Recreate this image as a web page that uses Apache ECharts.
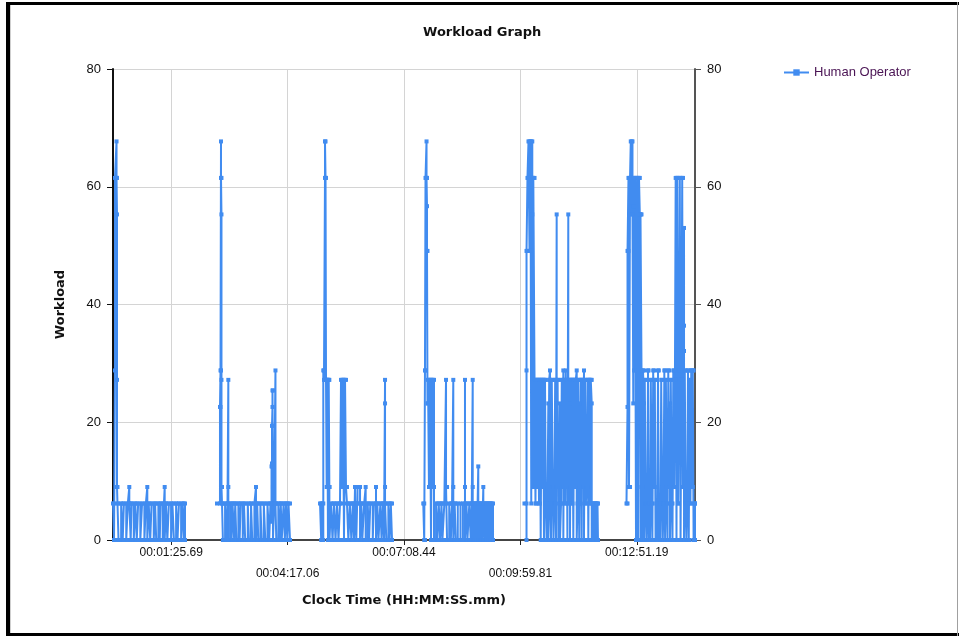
<!DOCTYPE html>
<html>
<head>
<meta charset="utf-8">
<title>Workload Graph</title>
<script src="https://cdn.jsdelivr.net/npm/echarts@6/dist/echarts.min.js"></script>
<style>
  html, body { margin: 0; padding: 0; background: #fff; }
  #chart { width: 959px; height: 636px; }
</style>
</head>
<body>
<div id="chart"></div>
<script>
// Clock time in seconds since start, workload value at that instant.
// Each run is a step trace: the value holds until the next sample.
const run1 = [
  [0, 6.2], [1.5, 0], [2.9, 28.8], [2.9, 61.5], [5.2, 67.7], [5.2, 61.5], [5.9, 55.3], [5.9, 27.2], [5.9, 9], [6.6, 6.2],
  [8.1, 0], [12.0, 6.2], [14.3, 0], [16.0, 6.2], [19.5, 0], [21.8, 6.2], [24.0, 9], [24.0, 6.2], [26.0, 0], [27.4, 6.2],
  [30.6, 0], [32.8, 6.2], [35.0, 0], [37.0, 6.2], [40.2, 0], [42.8, 6.2], [46.2, 0], [48.4, 6.2], [50.5, 9], [50.5, 0],
  [52.6, 6.2], [54.8, 0], [56.8, 6.2], [60.0, 0], [62.0, 6.2], [63.6, 0], [66.8, 6.2], [68.8, 0], [70.0, 6.2], [73.2, 0],
  [75.0, 6.2], [76.1, 9], [76.1, 0], [78.0, 6.2], [80.0, 0], [82.3, 6.2], [85.5, 0], [87.5, 6.2], [89.7, 0], [92.9, 6.2],
  [95.0, 0], [97.1, 6.2], [100.3, 0], [102.5, 6.2], [104.4, 0], [106.0, 6.2], [106.0, 0]
];
const run2 = [
  [153.1, 6.2], [157.5, 22.6], [158.3, 28.8], [159.0, 67.7], [159.0, 61.5], [159.7, 55.3], [159.7, 27.2], [159.7, 9], [160.5, 6.2],
  [161.8, 0], [165.0, 6.2], [166.8, 0], [168.6, 6.2], [169.8, 27.2], [169.8, 9], [169.8, 0], [172.8, 6.2], [174.6, 0], [176.0, 6.2],
  [178.4, 0], [180.0, 6.2], [181.6, 0], [184.6, 6.2], [186.4, 0], [188.0, 6.2], [191.0, 0], [192.8, 6.2], [194.6, 0], [198.4, 6.2],
  [200.2, 0], [203.2, 6.2], [205.0, 0], [208.2, 6.2], [210.5, 9], [210.5, 0], [212.3, 6.2], [213.9, 0], [217.0, 6.2], [218.8, 0],
  [222.0, 6.2], [224.2, 0], [227.4, 6.2], [230.0, 0], [231.8, 6.2], [233.4, 3.1], [233.4, 12.5], [234.1, 13.0], [234.1, 19.4],
  [234.8, 22.6], [234.8, 25.4], [235.5, 9], [235.5, 0], [237.2, 6.2], [239.2, 28.8], [239.2, 6.2], [240.4, 0], [243.4, 6.2],
  [245.2, 0], [247.0, 6.2], [248.4, 0], [251.2, 6.2], [253.0, 0], [254.8, 6.2], [256.6, 0], [258.4, 6.2], [260.6, 0]
];
const run3 = [
  [304.8, 6.2], [306.5, 0], [308.0, 6.2], [309.6, 0], [309.6, 28.8], [310.6, 27.2], [312.1, 61.5], [312.1, 67.7], [312.9, 61.5],
  [313.6, 27.2], [314.6, 9], [315.5, 27.2], [316.5, 0], [317.6, 27.2], [318.5, 9], [318.7, 0], [321.0, 6.2], [323.2, 0],
  [325.4, 6.2], [327.6, 0], [329.8, 6.2], [332.0, 0], [334.2, 6.2], [335.7, 27.2], [337.2, 9], [338.6, 27.2], [340.1, 0],
  [341.6, 27.2], [343.0, 9], [344.5, 6.2], [346.5, 0], [348.7, 6.2], [350.9, 0], [353.1, 6.2], [354.8, 0], [356.3, 9],
  [356.3, 6.2], [358.2, 0], [360.0, 9], [360.0, 6.2], [363.7, 9], [363.7, 0], [365.6, 6.2], [367.0, 0], [369.8, 6.2],
  [372.0, 9], [372.0, 0], [375.0, 6.2], [377.0, 0], [378.8, 6.2], [382.4, 0], [384.2, 6.2], [387.2, 9], [387.2, 0],
  [389.2, 6.2], [390.8, 0], [393.6, 6.2], [395.4, 0], [397.4, 6.2], [399.0, 0], [400.5, 27.2], [400.5, 23.2], [400.5, 9],
  [400.5, 6.2], [402.4, 0], [405.4, 6.2], [407.2, 0], [409.0, 6.2], [410.8, 0]
];
const run4 = [
  [456.8, 6.2], [458.2, 0], [459.3, 28.8], [460.1, 61.5], [461.6, 67.7], [461.6, 61.5], [462.3, 56.7], [462.3, 49.1],
  [463.0, 23.2], [463.8, 27.2], [465.2, 9], [466.7, 27.2], [468.2, 0], [469.7, 27.2], [471.1, 9], [472.6, 27.2], [472.6, 0],
  [475.6, 6.2], [477.6, 0], [479.6, 6.2], [481.6, 0], [483.6, 6.2], [485.0, 0], [487.8, 6.2], [490.3, 27.2], [490.3, 9],
  [491.8, 0], [495.0, 6.2], [497.4, 0], [499.2, 6.2], [501.0, 27.2], [501.0, 9], [501.0, 0], [503.0, 6.2], [504.6, 0],
  [507.6, 6.2], [511.6, 0], [515.2, 6.2], [518.2, 27.2], [518.2, 9], [518.2, 0], [520.4, 6.2], [521.8, 0], [524.6, 6.2],
  [526.6, 0], [528.2, 6.2], [529.6, 27.2], [529.6, 9], [529.6, 0], [531.2, 6.2], [532.6, 0], [534.0, 6.2], [535.4, 0],
  [536.8, 6.2], [537.8, 12.5], [537.8, 0], [539.2, 6.2], [540.6, 0], [542.0, 6.2], [543.4, 0], [545.2, 9], [545.2, 6.2],
  [546.6, 0], [548.0, 6.2], [549.4, 0], [550.8, 6.2], [552.2, 0], [553.6, 6.2], [555.0, 0], [556.4, 6.2], [557.8, 0],
  [559.5, 6.2], [559.5, 0]
];
const run5 = [
  [605.8, 6.2], [608.8, 0], [608.8, 28.8], [608.8, 49.1], [610.2, 61.5], [611.7, 67.7], [613.2, 49.1], [614.7, 67.7],
  [615.8, 6.2], [615.8, 55.3], [617.3, 67.7], [617.3, 61.5], [618.8, 9], [618.8, 61.5], [620.6, 27.2], [622.0, 6.2],
  [623.2, 27.2], [624.5, 9], [625.7, 27.2], [627.2, 6.2], [628.4, 27.2], [629.7, 0], [630.9, 27.2], [632.0, 9], [633.4, 27.2],
  [634.5, 0], [636.0, 27.2], [637.2, 6.2], [638.4, 0], [639.7, 6.2], [640.9, 23.2], [640.9, 0], [642.2, 27.2], [643.4, 28.8],
  [643.4, 6.2], [644.8, 0], [646.0, 27.2], [647.3, 9], [648.5, 0], [649.7, 6.2], [651.0, 27.2], [652.2, 0], [653.2, 55.3],
  [653.2, 9], [654.6, 27.2], [655.7, 0], [656.9, 6.2], [658.1, 23.2], [658.1, 0], [659.6, 6.2], [660.7, 27.2], [661.9, 9],
  [663.0, 28.8], [663.0, 0], [664.1, 27.2], [665.5, 6.2], [666.5, 28.8], [666.5, 9], [667.8, 27.2], [669.0, 0], [670.3, 55.3],
  [670.3, 6.2], [671.6, 27.2], [672.8, 23.2], [672.8, 0], [674.0, 27.2], [675.3, 6.2], [676.5, 27.2], [677.7, 0], [678.9, 27.2],
  [680.2, 9], [681.4, 27.2], [682.7, 28.8], [682.7, 0], [683.9, 6.2], [685.0, 27.2], [686.4, 0], [687.5, 23.2], [687.5, 6.2],
  [688.7, 27.2], [690.0, 0], [691.2, 27.2], [692.4, 9], [693.4, 28.8], [693.4, 0], [694.9, 27.2], [696.1, 6.2], [697.4, 9],
  [698.6, 27.2], [699.8, 0], [701.1, 27.2], [702.3, 6.2], [703.4, 27.2], [704.8, 23.2], [704.8, 0], [705.9, 6.2], [707.1, 0],
  [708.4, 6.2], [709.6, 0], [710.8, 6.2], [712.1, 0], [713.3, 6.2], [714.0, 0]
];
const run6 = [
  [756.0, 6.2], [757.5, 22.6], [757.5, 49.1], [758.9, 61.5], [759.7, 9], [761.2, 61.5], [762.3, 67.7], [763.8, 55.3],
  [764.8, 67.7], [764.8, 56.7], [766.0, 23.2], [766.0, 61.5], [767.3, 28.8], [768.5, 61.5], [770.0, 0], [771.5, 61.5],
  [772.9, 0], [774.4, 61.5], [775.6, 55.3], [776.6, 0], [776.6, 55.3], [778.1, 28.8], [778.1, 9], [779.3, 0], [780.3, 28.8],
  [781.8, 23.2], [781.8, 0], [782.9, 27.2], [784.1, 6.2], [785.3, 0], [786.5, 6.2], [787.7, 28.8], [788.5, 0], [789.6, 6.2],
  [790.6, 0], [791.8, 27.2], [793.0, 6.2], [794.1, 0], [795.3, 28.8], [796.5, 9], [797.7, 27.2], [798.8, 0], [800.0, 6.2],
  [801.2, 0], [802.4, 28.8], [803.6, 0], [804.7, 6.2], [805.9, 0], [807.1, 27.2], [808.3, 9], [809.4, 0], [810.5, 6.2],
  [811.7, 28.8], [812.8, 0], [814.0, 27.2], [815.2, 6.2], [816.4, 0], [817.5, 28.8], [818.7, 9], [820.0, 23.2], [820.0, 0],
  [821.2, 27.2], [822.5, 6.2], [823.7, 0], [824.9, 28.8], [826.1, 9], [827.3, 27.2], [828.4, 61.5], [829.6, 0], [830.8, 61.5],
  [832.0, 6.2], [833.3, 28.8], [834.5, 61.5], [835.6, 0], [836.8, 27.2], [838.0, 61.5], [839.2, 9], [840.7, 53.0],
  [840.7, 36.4], [840.7, 32.1], [840.7, 0], [841.8, 28.8], [843.0, 6.2], [844.2, 0], [845.4, 6.2], [846.5, 28.8], [847.7, 0],
  [848.9, 27.2], [850.1, 6.2], [851.3, 28.8], [852.4, 9], [853.6, 28.8], [854.8, 0], [855.8, 6.2], [856.85, 0], [856.85, 6.2]
];

// Time axis: tick positions (seconds) and their clock labels
const clockTickSeconds = [85.69, 257.06, 428.44, 599.81, 771.19];
const clockTickLabels = ['00:01:25.69', '00:04:17.06', '00:07:08.44', '00:09:59.81', '00:12:51.19'];
const workloadTicks = [0, 20, 40, 60, 80];
const seriesName = 'Human Operator';
const runs = [run1, run2, run3, run4, run5, run6];

const LINE_BLUE = '#418cf0';
const TEXT_FONT = 'Liberation Sans, Arial, sans-serif';
const BOLD_FONT = 'DejaVu Sans, Verdana, sans-serif';

function nearestTick(v) {
  let best = 0;
  for (let i = 1; i < clockTickSeconds.length; i++) {
    if (Math.abs(clockTickSeconds[i] - v) < Math.abs(clockTickSeconds[best] - v)) best = i;
  }
  return best;
}

// A held value stays level until the next sample time, then jumps:
// add the corner point where the level ends so the trace draws as steps.
function holdTrace(run) {
  const out = [];
  for (let i = 0; i < run.length; i++) {
    if (i > 0 && run[i][0] !== run[i - 1][0]) out.push([run[i][0], run[i - 1][1]]);
    out.push(run[i]);
  }
  return out;
}

const chart = echarts.init(document.getElementById('chart'), null, { renderer: 'canvas' });

const option = {
  animation: false,
  backgroundColor: '#ffffff',
  title: {
    text: 'Workload Graph',
    left: 423,
    top: 26,
    padding: 0,
    textStyle: { fontFamily: BOLD_FONT, fontWeight: 'bold', fontSize: 13, color: '#111' }
  },
  legend: {
    data: [seriesName],
    left: 783,
    top: 66,
    padding: 0,
    itemWidth: 25,
    itemHeight: 8,
    itemGap: 5,
    textStyle: { fontFamily: TEXT_FONT, fontSize: 13, color: '#4a1454' }
  },
  grid: { left: 113, right: 264, top: 69, bottom: 96, containLabel: false },
  xAxis: {
    type: 'value',
    min: 0,
    max: 856.85,
    name: 'Clock Time (HH:MM:SS.mm)',
    nameLocation: 'middle',
    nameGap: 54,
    nameTextStyle: { fontFamily: BOLD_FONT, fontWeight: 'bold', fontSize: 13, color: '#111' },
    axisLine: { show: true, onZero: false, lineStyle: { color: '#444', width: 2 } },
    axisTick: { show: true, customValues: clockTickSeconds, length: 5, lineStyle: { color: '#222' } },
    axisLabel: {
      customValues: clockTickSeconds,
      fontFamily: TEXT_FONT,
      fontSize: 12,
      color: '#111',
      lineHeight: 21,
      margin: 2,
      formatter: function (v) {
        const i = nearestTick(v);
        return i % 2 ? '\n' + clockTickLabels[i] : clockTickLabels[i];
      }
    },
    splitLine: { show: true, lineStyle: { color: '#d4d4d4', width: 1 } }
  },
  yAxis: [
    {
      type: 'value',
      min: workloadTicks[0],
      max: workloadTicks[workloadTicks.length - 1],
      interval: 20,
      position: 'left',
      name: 'Workload',
      nameLocation: 'middle',
      nameRotate: 90,
      nameGap: 46,
      nameTextStyle: { fontFamily: BOLD_FONT, fontWeight: 'bold', fontSize: 13, color: '#111' },
      axisLine: { show: true, lineStyle: { color: '#111', width: 2 } },
      axisTick: { show: true, length: 6, lineStyle: { color: '#111' } },
      axisLabel: { fontFamily: TEXT_FONT, fontSize: 13, color: '#111', margin: 12 },
      splitLine: { show: true, lineStyle: { color: '#d4d4d4', width: 1 } }
    },
    {
      type: 'value',
      min: workloadTicks[0],
      max: workloadTicks[workloadTicks.length - 1],
      interval: 20,
      position: 'right',
      axisLine: { show: true, lineStyle: { color: '#555', width: 2 } },
      axisTick: { show: true, length: 6, lineStyle: { color: '#555' } },
      axisLabel: { fontFamily: TEXT_FONT, fontSize: 13, color: '#111', margin: 12 },
      splitLine: { show: false }
    }
  ],
  series: runs.map(function (run) {
    return {
      name: seriesName,
      type: 'line',
      yAxisIndex: 0,
      data: holdTrace(run),
      showSymbol: true,
      symbol: 'rect',
      symbolSize: 4,
      color: LINE_BLUE,
      itemStyle: { color: LINE_BLUE },
      lineStyle: { color: LINE_BLUE, width: 2, join: 'miter' },
      emphasis: { disabled: true }
    };
  }),
  graphic: [
    { type: 'rect', shape: { x: 6, y: 2, width: 4, height: 634 }, style: { fill: '#000' } },
    { type: 'rect', shape: { x: 6, y: 2, width: 953, height: 3 }, style: { fill: '#000' } },
    { type: 'rect', shape: { x: 6, y: 633, width: 953, height: 3 }, style: { fill: '#000' } },
    { type: 'rect', shape: { x: 957, y: 2, width: 1, height: 634 }, style: { fill: '#a0a0a0' } },
    { type: 'rect', shape: { x: 10, y: 5, width: 1, height: 628 }, style: { fill: '#cfcfcf' } }
  ]
};

chart.setOption(option);
</script>
</body>
</html>
